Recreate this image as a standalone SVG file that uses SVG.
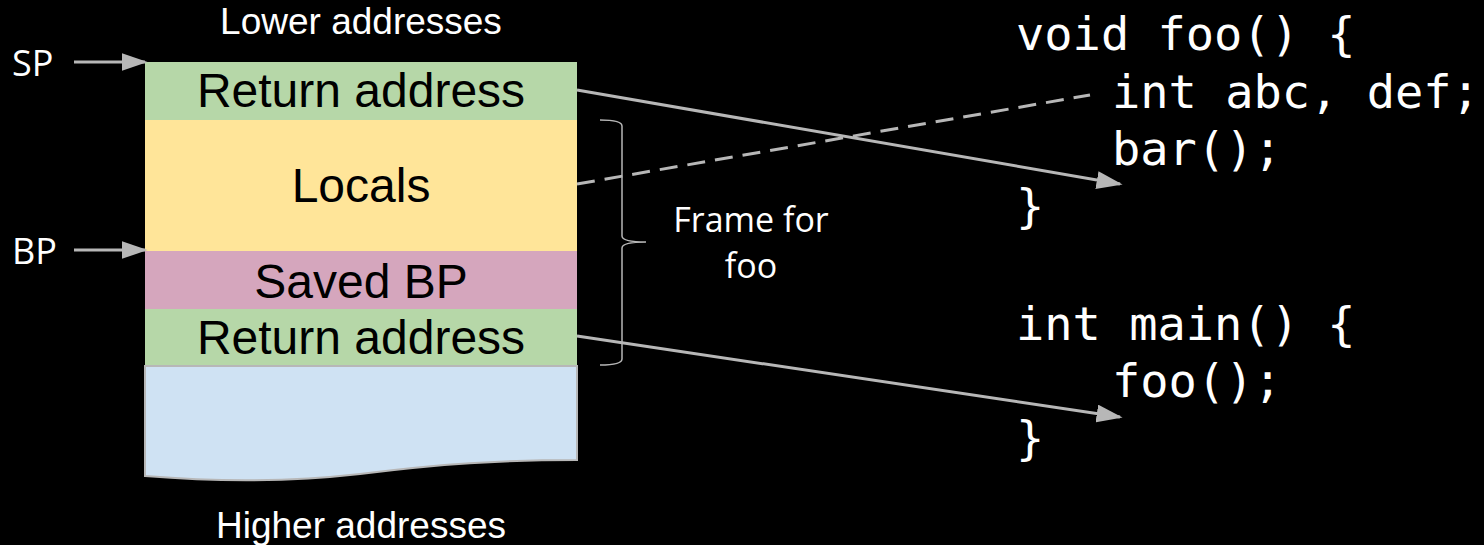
<svg xmlns="http://www.w3.org/2000/svg" width="1484" height="545" viewBox="0 0 1484 545">
  <style>
    .lbl { font-family: "Liberation Sans", Arial, sans-serif; fill: #fff; font-size: 37px; text-anchor: middle; }
    .cell { font-family: "Liberation Sans", Arial, sans-serif; fill: #000; font-size: 48px; text-anchor: middle; }
    .side { font-family: "Open Sans", "Noto Sans", sans-serif; fill: #fff; font-size: 36px; }
    .note { font-family: "Open Sans", "Noto Sans", sans-serif; fill: #fff; font-size: 34px; text-anchor: middle; }
    .code { font-family: "DejaVu Sans Mono", "Liberation Mono", monospace; fill: #fff; font-size: 47px; }
    .conn { stroke: #b7b7b7; stroke-width: 3; fill: none; }
  </style>
  <defs>
    <marker id="head" viewBox="0 0 10 10" refX="9" refY="5" markerWidth="26" markerHeight="18" markerUnits="userSpaceOnUse" orient="auto" preserveAspectRatio="none">
      <path d="M0,0 L10,5 L0,10 z" fill="#b7b7b7"/>
    </marker>
  </defs>
  <rect width="1484" height="545" fill="#000"/>

  <text class="lbl" x="361" y="34">Lower addresses</text>
  <text class="lbl" x="361" y="538">Higher addresses</text>

  <!-- stack cells -->
  <g id="ret-top">
    <rect x="145" y="62" width="432" height="58" fill="#b6d7a8"/>
    <text class="cell" x="361" y="107">Return address</text>
  </g>
  <g id="locals">
    <rect x="145" y="120" width="432" height="131" fill="#ffe599"/>
    <text class="cell" x="361" y="202">Locals</text>
  </g>
  <g id="saved-bp">
    <rect x="145" y="251" width="432" height="58" fill="#d5a6bd"/>
    <text class="cell" x="361" y="298">Saved BP</text>
  </g>
  <g id="ret-main">
    <rect x="145" y="309" width="432" height="57" fill="#b6d7a8"/>
    <text class="cell" x="361" y="354">Return address</text>
  </g>
  <g id="older">
    <path d="M145,366 H577 V460 C500,460 440,464 360,474 C290,482 220,482 145,476 Z" fill="#cfe2f3" stroke="#b7b7b7" stroke-width="2"/>
  </g>

  <!-- pointer labels -->
  <g id="sp">
    <text class="side" x="12" y="76">SP</text>
  </g>
  <g id="bp">
    <text class="side" x="12" y="264">BP</text>
  </g>

  <!-- frame brace -->
  <g id="frame">
    <path d="M600,120 Q622,120 622,126 V236 Q622,242 646,242 Q622,242 622,248 V359 Q622,365 600,365" fill="none" stroke="#b7b7b7" stroke-width="1.5"/>
    <text class="note" x="751" y="232">Frame for</text>
    <text class="note" x="751" y="278">foo</text>
  </g>

  <!-- source code -->
  <g id="code-foo">
    <text class="code" x="1016" y="50">void foo() {</text>
    <text class="code" x="1112" y="108">int abc, def;</text>
    <text class="code" x="1112" y="165">bar();</text>
    <text class="code" x="1016" y="222">}</text>
  </g>
  <g id="code-main">
    <text class="code" x="1016" y="340">int main() {</text>
    <text class="code" x="1112" y="397">foo();</text>
    <text class="code" x="1016" y="454">}</text>
  </g>

  <g id="connectors">
    <line class="conn" x1="74" y1="62" x2="145" y2="62" marker-end="url(#head)"/>
    <line class="conn" x1="74" y1="250" x2="145" y2="250" marker-end="url(#head)"/>
    <line class="conn" x1="577" y1="90" x2="1120" y2="184" marker-end="url(#head)"/>
    <line class="conn" x1="577" y1="336" x2="1120" y2="417" marker-end="url(#head)"/>
    <line class="conn" x1="577" y1="184" x2="1090" y2="95" stroke-dasharray="18,10"/>
  </g>
</svg>
